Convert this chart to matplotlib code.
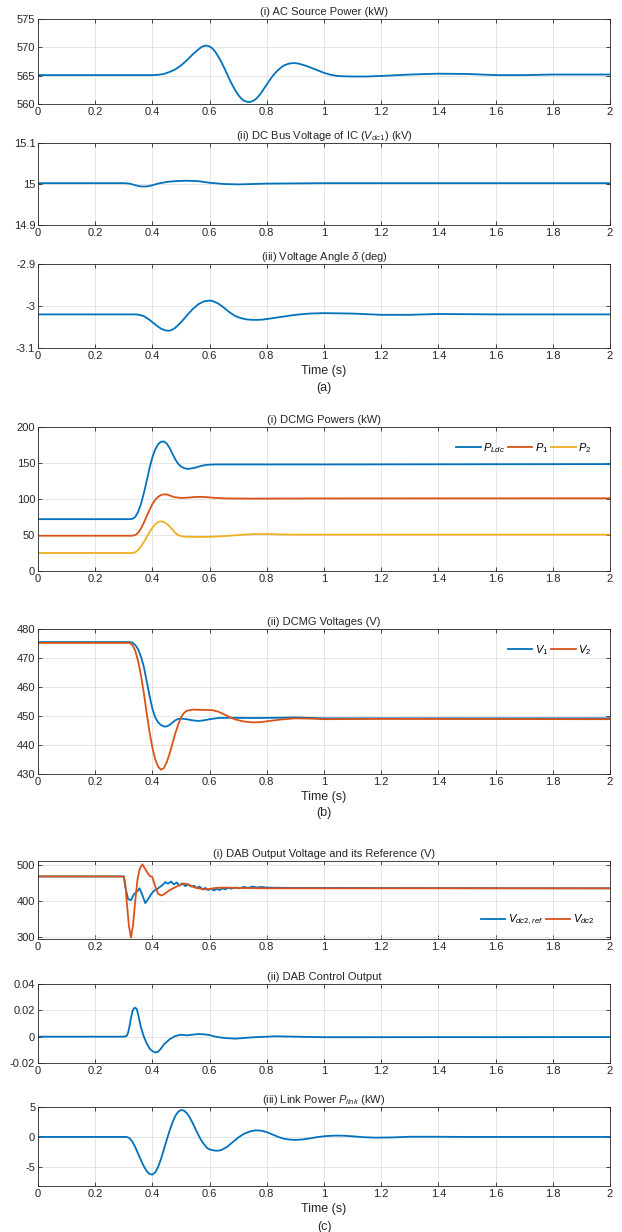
import matplotlib
matplotlib.use("Agg")
import matplotlib.pyplot as plt

plt.rcParams['font.family'] = ['Liberation Sans', 'DejaVu Sans']
plt.rcParams['mathtext.fontset'] = 'custom'
plt.rcParams['mathtext.rm'] = 'Liberation Sans'
plt.rcParams['mathtext.it'] = 'Liberation Sans:italic'
plt.rcParams['mathtext.bf'] = 'Liberation Sans:bold'
plt.rcParams['axes.unicode_minus'] = False

BLUE = '#0072BD'
ORANGE = '#D95319'
YELLOW = '#EDB120'

# ---------------- data ----------------
# (a)(i) AC source power (kW)
t_ac = [0, 0.40, 0.42, 0.44, 0.46, 0.48, 0.50, 0.52, 0.54, 0.56, 0.57, 0.58, 0.59, 0.60, 0.61,
        0.62, 0.63, 0.64, 0.65, 0.66, 0.67, 0.68, 0.69, 0.70, 0.71, 0.72, 0.73, 0.74, 0.75,
        0.76, 0.77, 0.78, 0.79, 0.80, 0.81, 0.82, 0.83, 0.84, 0.85, 0.86, 0.87, 0.88, 0.89,
        0.90, 0.91, 0.92, 0.94, 0.96, 0.98, 1.00, 1.02, 1.04, 1.06, 1.10, 1.15, 1.20, 1.30,
        1.40, 1.50, 1.60, 1.70, 1.80, 2.00]
p_ac = [565.1, 565.1, 565.15, 565.3, 565.65, 566.1, 566.8, 567.7, 568.7, 569.6, 570.0, 570.25,
        570.3, 570.15, 569.8, 569.2, 568.4, 567.5, 566.5, 565.4, 564.3, 563.3, 562.4, 561.6,
        561.0, 560.6, 560.4, 560.35, 560.5, 560.8, 561.3, 561.95, 562.7, 563.45, 564.2,
        564.9, 565.5, 566.0, 566.45, 566.8, 567.0, 567.15, 567.2, 567.2, 567.15, 567.0,
        566.7, 566.3, 565.9, 565.5, 565.2, 565.0, 564.9, 564.85, 564.85, 564.95, 565.2,
        565.35, 565.3, 565.1, 565.1, 565.2, 565.2]

# (a)(ii) DC bus voltage of IC (kV)
t_vdc1 = [0, 0.30, 0.32, 0.34, 0.36, 0.38, 0.40, 0.42, 0.45, 0.48, 0.52, 0.56, 0.60, 0.65,
          0.70, 0.80, 1.00, 2.00]
v_dc1 = [15.002, 15.002, 15.001, 14.997, 14.994, 14.994, 14.997, 15.001, 15.005, 15.007,
         15.008, 15.007, 15.003, 15.000, 14.999, 15.001, 15.002, 15.002]

# (a)(iii) Voltage angle (deg)
t_ang = [0, 0.34, 0.35, 0.37, 0.39, 0.41, 0.43, 0.445, 0.455, 0.465, 0.48, 0.50, 0.52, 0.54,
         0.56, 0.58, 0.60, 0.61, 0.63, 0.65, 0.67, 0.69, 0.71, 0.73, 0.75, 0.77, 0.79, 0.82,
         0.86, 0.90, 0.95, 1.00, 1.10, 1.20, 1.30, 1.40, 1.60, 2.00]
ang = [-3.020, -3.020, -3.0205, -3.024, -3.033, -3.044, -3.054, -3.058, -3.059, -3.058, -3.052,
       -3.039, -3.023, -3.008, -2.996, -2.989, -2.987, -2.988, -2.994, -3.004, -3.015, -3.024,
       -3.029, -3.032, -3.033, -3.033, -3.032, -3.029, -3.025, -3.021, -3.018, -3.017, -3.018,
       -3.021, -3.021, -3.019, -3.020, -3.020]

# (b)(i) DCMG powers (kW)
t_pl = [0, 0.32, 0.33, 0.34, 0.35, 0.36, 0.37, 0.38, 0.39, 0.40, 0.41, 0.42, 0.43, 0.44, 0.45,
        0.46, 0.47, 0.48, 0.49, 0.50, 0.51, 0.52, 0.53, 0.55, 0.57, 0.59, 0.62, 0.70, 1.00,
        2.00]
p_ldc = [72, 72, 72.5, 75, 82, 93, 108, 125, 143, 158, 169, 176, 179.5, 180, 177, 171, 163,
         155, 149, 145, 143, 142, 142, 143.5, 146, 147.5, 148, 148, 148, 148.5]

t_p1 = [0, 0.33, 0.34, 0.35, 0.36, 0.37, 0.38, 0.39, 0.40, 0.41, 0.42, 0.43, 0.44, 0.45, 0.46,
        0.47, 0.48, 0.50, 0.52, 0.55, 0.57, 0.59, 0.62, 0.66, 0.75, 1.00, 2.00]
p_1 = [49, 49, 50, 53, 59, 67, 76, 85, 93, 99, 103, 105.5, 106.5, 106.3, 105, 103.5, 102.3,
       101.5, 101.8, 102.8, 103, 102.5, 101.5, 100.8, 100.5, 100.8, 101]

t_p2 = [0, 0.33, 0.34, 0.35, 0.36, 0.37, 0.38, 0.39, 0.40, 0.41, 0.42, 0.43, 0.44, 0.45, 0.46,
        0.47, 0.48, 0.49, 0.50, 0.52, 0.56, 0.60, 0.64, 0.68, 0.72, 0.76, 0.80, 0.85, 0.90,
        1.00, 2.00]
p_2 = [25, 25, 26, 29, 34, 40, 47, 54, 60, 65, 68, 69, 68, 65.5, 62, 57.5, 53, 50, 48.3, 47.5,
       47.3, 47.5, 48.2, 49.3, 50.5, 51.3, 51.3, 50.8, 50.5, 50.5, 50.5]

# (b)(ii) DCMG voltages (V)
t_v1 = [0, 0.32, 0.33, 0.34, 0.35, 0.36, 0.37, 0.38, 0.39, 0.40, 0.41, 0.42, 0.43, 0.44, 0.45,
        0.46, 0.47, 0.48, 0.49, 0.50, 0.52, 0.54, 0.56, 0.58, 0.60, 0.63, 0.67, 0.75, 0.85,
        0.90, 1.00, 2.00]
v_1 = [475.5, 475.5, 475.3, 474.5, 473, 470.5, 467, 462, 457, 452.5, 449.5, 447.8, 446.9,
       446.4, 446.4, 446.9, 447.7, 448.5, 449.0, 449.1, 448.9, 448.5, 448.3, 448.5, 448.9,
       449.3, 449.4, 449.3, 449.4, 449.5, 449.2, 449.2]

t_v2 = [0, 0.32, 0.33, 0.34, 0.35, 0.36, 0.37, 0.38, 0.39, 0.40, 0.41, 0.42, 0.43, 0.44, 0.45,
        0.46, 0.47, 0.48, 0.49, 0.50, 0.51, 0.52, 0.54, 0.58, 0.61, 0.63, 0.65, 0.67, 0.69,
        0.72, 0.75, 0.78, 0.81, 0.85, 0.90, 0.95, 1.00, 1.20, 2.00]
v_2 = [475.2, 475.2, 474.5, 472.5, 469, 464, 458, 451, 444.5, 439, 435, 432.5, 431.5, 432,
       434, 437, 440.5, 444, 447, 449.5, 451, 451.8, 452.2, 452.1, 452.0, 451.5, 450.6, 449.6,
       448.8, 448.1, 447.8, 447.9, 448.3, 448.8, 449.2, 449.1, 448.9, 449.0, 448.9]

# (c)(i) DAB output voltage and reference (V)
t_ref = [0, 0.300, 0.305, 0.315, 0.325, 0.335, 0.345, 0.355, 0.365, 0.375, 0.385, 0.395,
         0.405, 0.415, 0.425, 0.435, 0.445, 0.455, 0.465, 0.475, 0.485, 0.495, 0.505, 0.515,
         0.525, 0.535, 0.545, 0.555, 0.565, 0.575, 0.585, 0.595, 0.605, 0.615, 0.625, 0.635,
         0.645, 0.655, 0.665, 0.675, 0.690, 0.705, 0.720, 0.735, 0.750, 0.765, 0.780, 0.800,
         0.900, 1.000, 2.000]
v_ref = [468, 468, 440, 405, 402, 418, 425, 435, 416, 394, 405, 418, 428, 432, 438, 444,
         452, 448, 454, 446, 451, 443, 449, 441, 446, 440, 442, 436, 440, 432, 436, 430, 434,
         429, 434, 430, 435, 432, 437, 434, 437, 435, 439, 436, 440, 437, 439, 437, 436, 436,
         435]

t_vdc2 = [0, 0.300, 0.305, 0.310, 0.318, 0.325, 0.332, 0.340, 0.348, 0.356, 0.365, 0.372,
          0.380, 0.390, 0.400, 0.410, 0.420, 0.430, 0.440, 0.450, 0.460, 0.470, 0.480, 0.490,
          0.500, 0.510, 0.520, 0.530, 0.540, 0.550, 0.560, 0.570, 0.580, 0.600, 0.620, 0.650,
          0.700, 0.800, 1.000, 2.000]
v_dc2 = [468, 468, 450, 400, 330, 298, 330, 400, 460, 490, 502, 492, 482, 470, 466, 440, 420,
         415, 418, 424, 430, 434, 438, 442, 445, 448, 447, 444, 440, 437, 435, 434, 432, 433,
         436, 437, 436, 435, 435, 435]

# (c)(ii) DAB control output
t_u = [0, 0.30, 0.31, 0.315, 0.32, 0.325, 0.33, 0.335, 0.34, 0.345, 0.35, 0.355, 0.36, 0.37,
       0.38, 0.39, 0.40, 0.41, 0.42, 0.43, 0.44, 0.46, 0.48, 0.50, 0.52, 0.54, 0.56, 0.58,
       0.60, 0.62, 0.65, 0.69, 0.75, 0.83, 0.90, 1.00, 2.00]
u_dab = [0, 0, 0.0005, 0.003, 0.008, 0.014, 0.019, 0.0215, 0.022, 0.021, 0.017, 0.012, 0.007,
         0.0, -0.005, -0.009, -0.011, -0.012, -0.0115, -0.009, -0.006, -0.002, 0.0005, 0.0015,
         0.001, 0.0015, 0.002, 0.0018, 0.0012, 0.0, -0.001, -0.0015, -0.0005, 0.0003, 0.0,
         -0.0004, -0.0003]

# (c)(iii) Link power (kW)
t_pk = [0, 0.31, 0.32, 0.33, 0.34, 0.35, 0.36, 0.37, 0.38, 0.39, 0.40, 0.41, 0.42, 0.43, 0.44,
        0.45, 0.46, 0.47, 0.48, 0.49, 0.50, 0.51, 0.52, 0.53, 0.54, 0.55, 0.56, 0.57, 0.58,
        0.59, 0.60, 0.62, 0.63, 0.64, 0.66, 0.68, 0.70, 0.72, 0.74, 0.76, 0.78, 0.80, 0.82,
        0.84, 0.86, 0.88, 0.90, 0.92, 0.95, 0.98, 1.01, 1.04, 1.07, 1.10, 1.14, 1.18, 1.24,
        1.30, 1.38, 1.50, 2.00]
p_link = [0, 0, -0.2, -0.8, -1.7, -2.8, -3.9, -4.9, -5.7, -6.2, -6.3, -5.9, -5.0, -3.7, -2.1,
          -0.5, 1.0, 2.4, 3.5, 4.2, 4.5, 4.4, 4.0, 3.3, 2.4, 1.4, 0.4, -0.5, -1.2, -1.8, -2.1,
          -2.3, -2.3, -2.2, -1.7, -0.9, -0.1, 0.5, 0.9, 1.1, 1.05, 0.8, 0.4, 0.0, -0.3, -0.45,
          -0.5, -0.45, -0.25, 0.0, 0.15, 0.22, 0.2, 0.1, -0.05, -0.12, -0.08, 0.03, 0.03, 0.0,
          0.0]

xticks = [0, 0.2, 0.4, 0.6, 0.8, 1, 1.2, 1.4, 1.6, 1.8, 2]
xticklabels = ['0', '0.2', '0.4', '0.6', '0.8', '1', '1.2', '1.4', '1.6', '1.8', '2']

# ---------------- figure ----------------
W, H = 622, 1232
fig = plt.figure(figsize=(W / 100, H / 100), dpi=100)

X0, X1 = 38, 610
panels = [  # (top px, bottom px)
    (19, 104), (143, 225), (264, 348),
    (427, 571), (629, 774),
    (861, 939), (984, 1063), (1107, 1186),
]

FS = 8
TXT = '#262626'
axes = []
for top, bot in panels:
    ax = fig.add_axes([X0 / W, 1 - bot / H, (X1 - X0) / W, (bot - top) / H])
    ax.set_xlim(0, 2)
    ax.set_xticks(xticks)
    ax.set_xticklabels(xticklabels)
    ax.grid(True, color='#e0e0e0', linewidth=0.6)
    ax.set_axisbelow(True)
    ax.tick_params(direction='in', top=True, right=True, labelsize=FS, colors=TXT,
                   length=3, width=0.6, pad=2)
    for s in ax.spines.values():
        s.set_color(TXT)
        s.set_linewidth(0.6)
    axes.append(ax)

LW = 1.3
tkw = dict(fontsize=FS, color=TXT, pad=3)
lkw = dict(frameon=False, fontsize=FS, handlelength=2.2, handletextpad=0.2, columnspacing=0.3)

ax = axes[0]
ax.plot(t_ac, p_ac, color=BLUE, lw=LW)
ax.set_ylim(560, 575)
ax.set_yticks([560, 565, 570, 575])
ax.set_title('(i) AC Source Power (kW)', **tkw)

ax = axes[1]
ax.plot(t_vdc1, v_dc1, color=BLUE, lw=LW)
ax.set_ylim(14.9, 15.1)
ax.set_yticks([14.9, 15.0, 15.1])
ax.set_yticklabels(['14.9', '15', '15.1'])
ax.set_title('(ii) DC Bus Voltage of IC ($V_{dc1}$) (kV)', **tkw)

ax = axes[2]
ax.plot(t_ang, ang, color=BLUE, lw=LW)
ax.set_ylim(-3.1, -2.9)
ax.set_yticks([-3.1, -3.0, -2.9])
ax.set_yticklabels(['-3.1', '-3', '-2.9'])
ax.set_title(r'(iii) Voltage Angle $\delta$ (deg)', **tkw)
ax.set_xlabel('Time (s)', fontsize=FS + 1, color=TXT, labelpad=3)
fig.text((X0 + X1) / 2 / W, 1 - 388 / H, '(a)', ha='center', va='center', fontsize=FS + 1,
         color=TXT)

ax = axes[3]
ax.plot(t_pl, p_ldc, color=BLUE, lw=LW, label='$P_{Ldc}$')
ax.plot(t_p1, p_1, color=ORANGE, lw=LW, label='$P_{1}$')
ax.plot(t_p2, p_2, color=YELLOW, lw=LW, label='$P_{2}$')
ax.set_ylim(0, 200)
ax.set_yticks([0, 50, 100, 150, 200])
ax.set_title('(i) DCMG Powers (kW)', **tkw)
ax.legend(loc='upper right', ncol=3, bbox_to_anchor=(0.985, 0.97), **lkw)

ax = axes[4]
ax.plot(t_v1, v_1, color=BLUE, lw=LW, label='$V_{1}$')
ax.plot(t_v2, v_2, color=ORANGE, lw=LW, label='$V_{2}$')
ax.set_ylim(430, 480)
ax.set_yticks([430, 440, 450, 460, 470, 480])
ax.set_title('(ii) DCMG Voltages (V)', **tkw)
ax.legend(loc='upper right', ncol=2, bbox_to_anchor=(0.985, 0.97), **lkw)
ax.set_xlabel('Time (s)', fontsize=FS + 1, color=TXT, labelpad=3)
fig.text((X0 + X1) / 2 / W, 1 - 813 / H, '(b)', ha='center', va='center', fontsize=FS + 1,
         color=TXT)

ax = axes[5]
ax.plot(t_ref, v_ref, color=BLUE, lw=LW, label='$V_{dc2,ref}$')
ax.plot(t_vdc2, v_dc2, color=ORANGE, lw=LW, label='$V_{dc2}$')
ax.set_ylim(294, 511)
ax.set_yticks([300, 400, 500])
ax.set_title('(i) DAB Output Voltage and its Reference (V)', **tkw)
ax.legend(loc='lower right', ncol=2, bbox_to_anchor=(0.99, 0.02), **lkw)

ax = axes[6]
ax.plot(t_u, u_dab, color=BLUE, lw=LW)
ax.set_ylim(-0.02, 0.04)
ax.set_yticks([-0.02, 0, 0.02, 0.04])
ax.set_yticklabels(['-0.02', '0', '0.02', '0.04'])
ax.set_title('(ii) DAB Control Output', **tkw)

ax = axes[7]
ax.plot(t_pk, p_link, color=BLUE, lw=LW)
ax.set_ylim(-8.2, 5)
ax.set_yticks([-5, 0, 5])
ax.set_title('(iii) Link Power $P_{link}$ (kW)', **tkw)
ax.set_xlabel('Time (s)', fontsize=FS + 1, color=TXT, labelpad=3)
fig.text((X0 + X1) / 2 / W, 1 - 1227 / H, '(c)', ha='center', va='center', fontsize=FS + 1,
         color=TXT)

fig.savefig('out.png', dpi=100, facecolor='white')
